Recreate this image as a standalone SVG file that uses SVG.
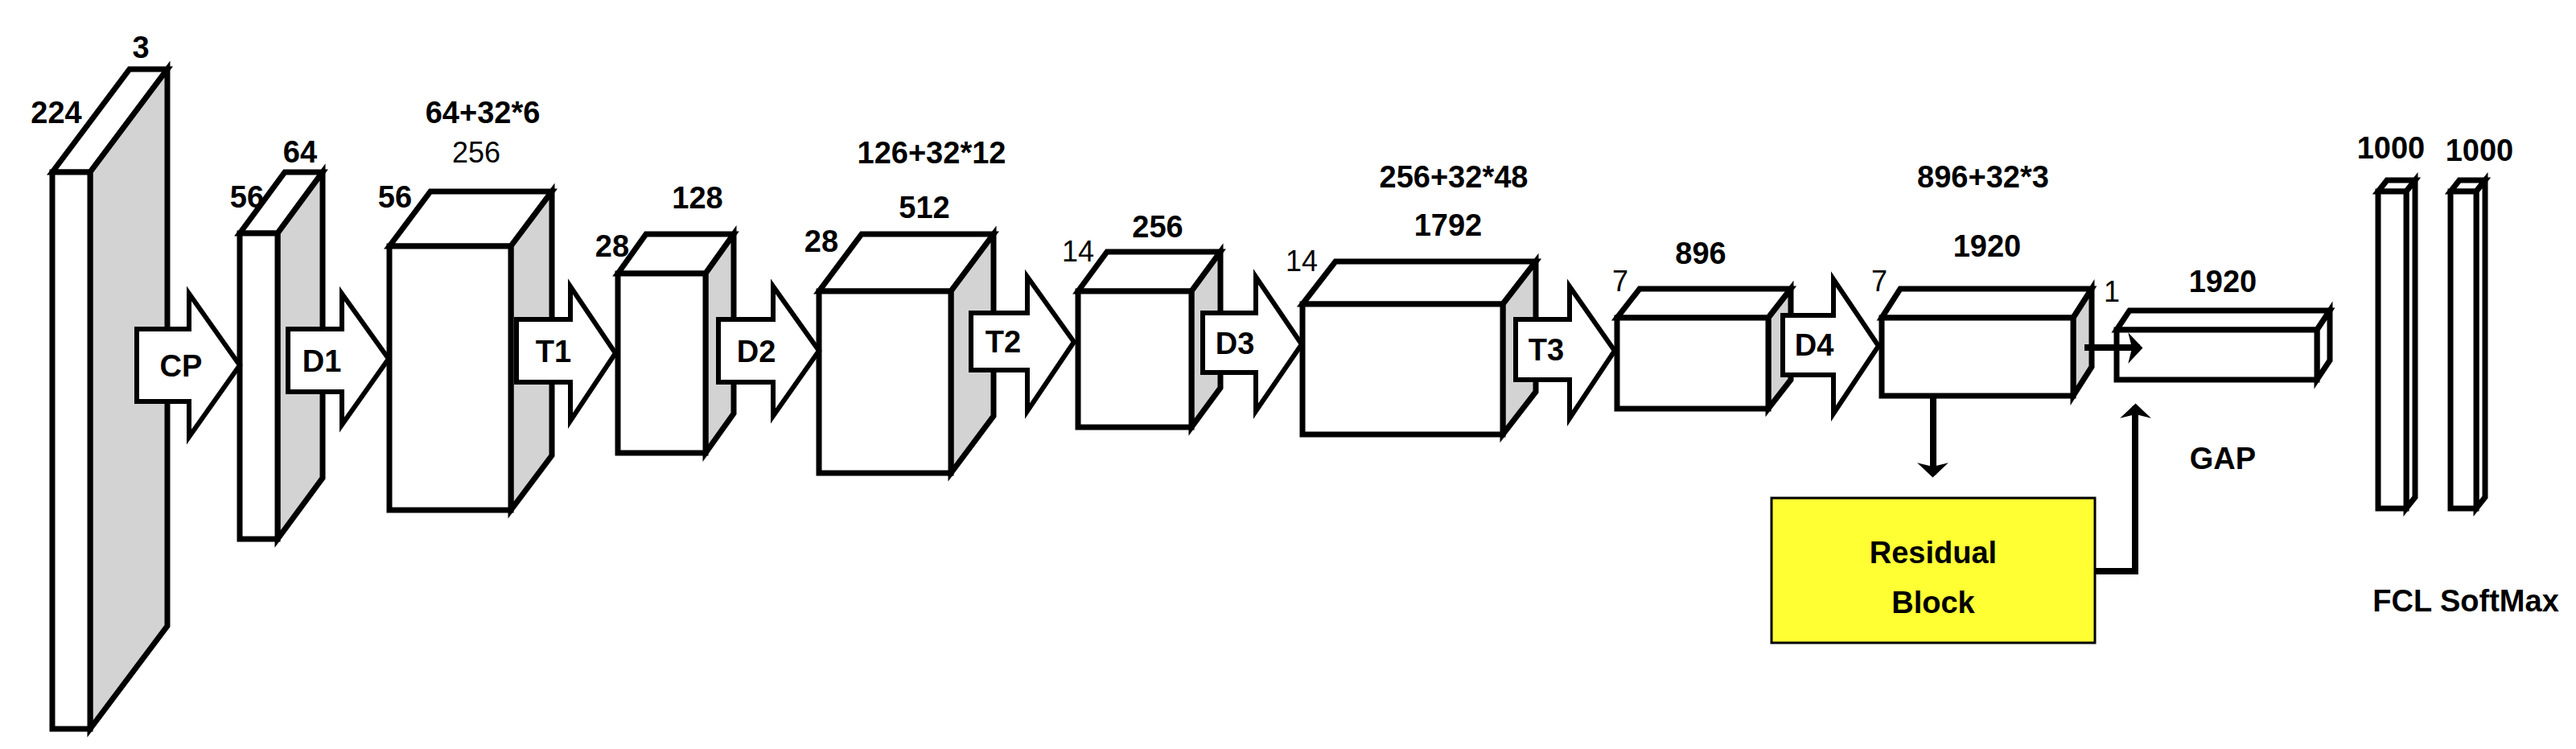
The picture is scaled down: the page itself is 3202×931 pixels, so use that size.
<svg xmlns="http://www.w3.org/2000/svg" width="3202" height="931" viewBox="0 0 3202 931">
<style>
.f{fill:#fff;stroke:#000;stroke-width:7;stroke-linejoin:miter}
.s{fill:#d3d3d3;stroke:#000;stroke-width:7}
.t{font-family:"Liberation Sans",Arial,sans-serif;font-weight:bold;font-size:38px;fill:#000}
.n{font-family:"Liberation Sans",Arial,sans-serif;font-size:36px;fill:#000}
.a{fill:#fff;stroke:#000;stroke-width:6}
.l{fill:none;stroke:#000;stroke-width:8}
</style>
<defs>
<marker id="ah" viewBox="0 0 20 20" refX="18" refY="10" markerWidth="11" markerHeight="11" markerUnits="userSpaceOnUse" orient="auto" overflow="visible">
<path d="M-8,-22 L22,10 L-8,42 L0,10 Z" fill="#000" transform="scale(1.1)"/>
</marker>
</defs>
<g id="input">
<polygon class="f" points="65,214 161,86 208,86 112,214"/>
<polygon class="s" points="112,214 208,86 208,778 112,906"/>
<rect class="f" x="65" y="214" width="47" height="692"/>
<text class="t" x="175" y="72" text-anchor="middle">3</text>
<text class="t" x="70" y="153" text-anchor="middle">224</text>
</g>
<g id="l1">
<polygon class="f" points="298,290 354,214 401,214 345,290"/>
<polygon class="s" points="345,290 401,214 401,594 345,670"/>
<rect class="f" x="298" y="290" width="47" height="380"/>
<text class="t" x="373" y="202" text-anchor="middle">64</text>
<text class="t" x="307" y="258" text-anchor="middle">56</text>
</g>
<g id="l2">
<polygon class="f" points="484,306 535,238 686,238 635,306"/>
<polygon class="s" points="635,306 686,238 686,566 635,634"/>
<rect class="f" x="484" y="306" width="151" height="328"/>
<text class="t" x="600" y="153" text-anchor="middle">64+32*6</text>
<text class="n" x="592" y="202" text-anchor="middle" fill="#333">256</text>
<text class="t" x="491" y="258" text-anchor="middle">56</text>
</g>
<g id="l3">
<polygon class="f" points="768,340 803,291 912,291 877,340"/>
<polygon class="s" points="877,340 912,291 912,514 877,563"/>
<rect class="f" x="768" y="340" width="109" height="223"/>
<text class="t" x="867" y="259" text-anchor="middle">128</text>
<text class="t" x="761" y="319" text-anchor="middle">28</text>
</g>
<g id="l4">
<polygon class="f" points="1018,362 1071,291 1235,291 1182,362"/>
<polygon class="s" points="1182,362 1235,291 1235,517 1182,588"/>
<rect class="f" x="1018" y="362" width="164" height="226"/>
<text class="t" x="1158" y="203" text-anchor="middle">126+32*12</text>
<text class="t" x="1149" y="271" text-anchor="middle">512</text>
<text class="t" x="1021" y="313" text-anchor="middle">28</text>
</g>
<g id="l5">
<polygon class="f" points="1340,362 1376,313 1517,313 1481,362"/>
<polygon class="s" points="1481,362 1517,313 1517,482 1481,531"/>
<rect class="f" x="1340" y="362" width="141" height="169"/>
<text class="t" x="1439" y="295" text-anchor="middle">256</text>
<text class="n" x="1340" y="325" text-anchor="middle">14</text>
</g>
<g id="l6">
<polygon class="f" points="1619,378 1660,325 1909,325 1868,378"/>
<polygon class="s" points="1868,378 1909,325 1909,487 1868,540"/>
<rect class="f" x="1619" y="378" width="249" height="162"/>
<text class="t" x="1807" y="233" text-anchor="middle">256+32*48</text>
<text class="t" x="1800" y="293" text-anchor="middle">1792</text>
<text class="n" x="1618" y="337" text-anchor="middle">14</text>
</g>
<g id="l7">
<polygon class="f" points="2010,395 2038,359 2226,359 2198,395"/>
<polygon class="s" points="2198,395 2226,359 2226,472 2198,508"/>
<rect class="f" x="2010" y="395" width="188" height="113"/>
<text class="t" x="2114" y="328" text-anchor="middle">896</text>
<text class="n" x="2014" y="362" text-anchor="middle">7</text>
</g>
<g id="l8">
<polygon class="f" points="2339,395 2362,359 2600,359 2577,395"/>
<polygon class="s" points="2577,395 2600,359 2600,456 2577,492"/>
<rect class="f" x="2339" y="395" width="238" height="97"/>
<text class="t" x="2465" y="233" text-anchor="middle">896+32*3</text>
<text class="t" x="2470" y="319" text-anchor="middle">1920</text>
<text class="n" x="2336" y="362" text-anchor="middle">7</text>
</g>
<g id="gap">
<polygon class="f" points="2631,410 2647,386 2896,386 2880,410"/>
<polygon class="f" points="2880,410 2896,386 2896,448 2880,472"/>
<rect class="f" x="2631" y="410" width="249" height="62"/>
<text class="t" x="2763" y="363" text-anchor="middle">1920</text>
<text class="n" x="2625" y="375" text-anchor="middle">1</text>
<text class="t" x="2763" y="583" text-anchor="middle">GAP</text>
</g>
<g id="fcl">
<polygon class="f" points="2956,238 2967,224 3002,224 2991,238"/>
<polygon class="f" points="2991,238 3002,224 3002,618 2991,632"/>
<rect class="f" x="2956" y="238" width="35" height="394"/>
<text class="t" x="2972" y="197" text-anchor="middle" font-size="34">1000</text>
</g>
<g id="softmax">
<polygon class="f" points="3046,238 3057,224 3089,224 3078,238"/>
<polygon class="f" points="3078,238 3089,224 3089,618 3078,632"/>
<rect class="f" x="3046" y="238" width="32" height="394"/>
<text class="t" x="3082" y="200" text-anchor="middle">1000</text>
<text class="t" x="3065" y="760" text-anchor="middle" font-size="34">FCL SoftMax</text>
</g>
<g id="residual">
<rect x="2202" y="619" width="402" height="180" fill="#ffff33" stroke="#000" stroke-width="3"/>
<text class="t" x="2403" y="700" text-anchor="middle" font-size="40">Residual</text>
<text class="t" x="2403" y="762" text-anchor="middle" font-size="40">Block</text>
</g>
<g id="connectors">
<path class="a" d="M170,409 H235 V365 L298,454 L235,543 V499 H170 Z"/>
<path class="a" d="M358,409 H425 V365 L483,446 L425,528 V487 H358 Z"/>
<path class="a" d="M642,397 H709 V356 L765,439 L709,523 V475 H642 Z"/>
<path class="a" d="M893,397 H961 V356 L1018,436 L961,517 V475 H893 Z"/>
<path class="a" d="M1207,389 H1277 V344 L1335,425 L1277,511 V460 H1207 Z"/>
<path class="a" d="M1495,389 H1561 V344 L1618,428 L1561,511 V463 H1495 Z"/>
<path class="a" d="M1884,397 H1951 V356 L2007,436 L1951,520 V472 H1884 Z"/>
<path class="a" d="M2216,392 H2279 V347 L2335,430 L2279,514 V466 H2216 Z"/>
<text class="t" x="225" y="468" text-anchor="middle" font-size="34">CP</text>
<text class="t" x="400" y="462" text-anchor="middle" font-size="34">D1</text>
<text class="t" x="688" y="450" text-anchor="middle" font-size="34">T1</text>
<text class="t" x="940" y="450" text-anchor="middle" font-size="34">D2</text>
<text class="t" x="1247" y="438" text-anchor="middle" font-size="34">T2</text>
<text class="t" x="1535" y="440" text-anchor="middle" font-size="34">D3</text>
<text class="t" x="1922" y="448" text-anchor="middle" font-size="34">T3</text>
<text class="t" x="2255" y="442" text-anchor="middle" font-size="34">D4</text>
<path class="l" d="M2591,432 H2660" marker-end="url(#ah)"/>
<path class="l" d="M2403,493 V590" marker-end="url(#ah)"/>
<path class="l" d="M2604,710 H2654 V505" marker-end="url(#ah)"/>
</g>
</svg>
